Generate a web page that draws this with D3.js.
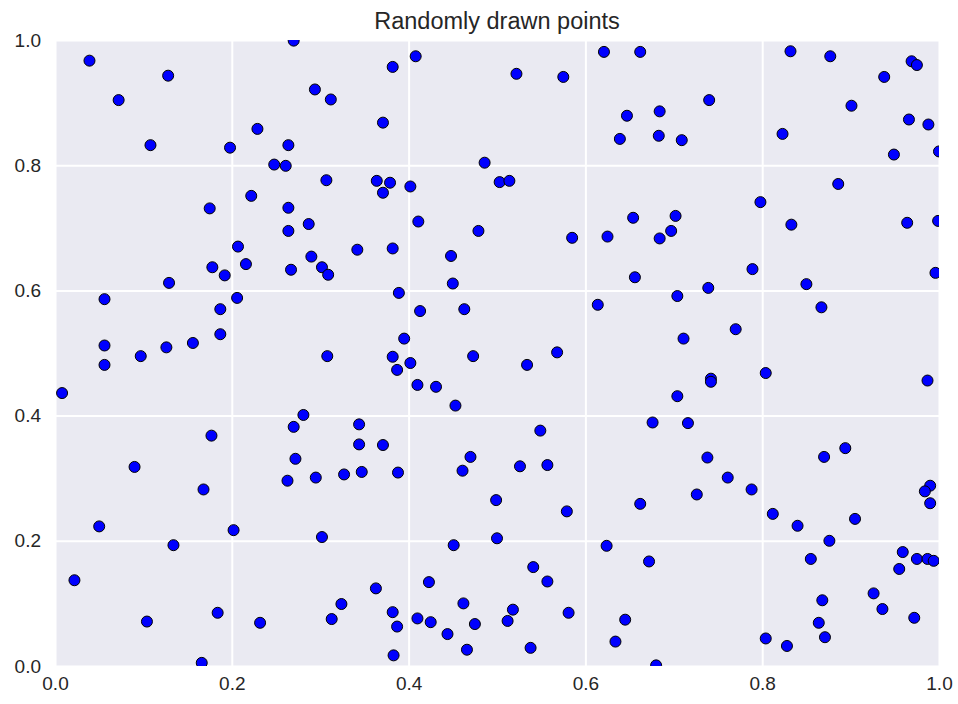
<!DOCTYPE html>
<html>
<head>
  <meta charset="utf-8" />
  <script src="https://cdn.jsdelivr.net/npm/d3@7/dist/d3.min.js"></script>
  <style>
    body { margin: 0; background: #fff; }
    text { font-family: "Liberation Sans", Arial, sans-serif; fill: #262626; }
  </style>
</head>
<body>
<script>
  "use strict";

  var title = "Randomly drawn points";
  var ticks = [0.0, 0.2, 0.4, 0.6, 0.8, 1.0];

  var xs = [
    0.039, 0.072, 0.108, 0.128, 0.198, 0.229, 0.222, 0.175, 0.207, 0.270,
    0.408, 0.382, 0.294, 0.312, 0.371, 0.264, 0.248, 0.261, 0.486, 0.307,
    0.364, 0.379, 0.371, 0.402, 0.264, 0.287, 0.264, 0.411, 0.479, 0.342,
    0.382, 0.621, 0.662, 0.522, 0.575, 0.740, 0.647, 0.684, 0.639, 0.683,
    0.709, 0.503, 0.514, 0.585, 0.654, 0.702, 0.625, 0.684, 0.697, 0.832,
    0.877, 0.969, 0.975, 0.938, 0.901, 0.966, 0.988, 0.823, 0.949, 1.000,
    0.886, 0.798, 0.833, 0.964, 0.999, 0.216, 0.178, 0.192, 0.129, 0.056,
    0.206, 0.187, 0.187, 0.056, 0.126, 0.156, 0.097, 0.056, 0.008, 0.177,
    0.290, 0.267, 0.302, 0.309, 0.448, 0.450, 0.389, 0.413, 0.463, 0.395,
    0.308, 0.382, 0.402, 0.387, 0.473, 0.410, 0.431, 0.453, 0.281, 0.270,
    0.344, 0.344, 0.371, 0.272, 0.470, 0.656, 0.739, 0.614, 0.704, 0.711,
    0.568, 0.534, 0.742, 0.742, 0.704, 0.549, 0.676, 0.716, 0.738, 0.789,
    0.850, 0.996, 0.867, 0.770, 0.804, 0.987, 0.894, 0.870, 0.090, 0.168,
    0.050, 0.202, 0.134, 0.022, 0.104, 0.184, 0.232, 0.166, 0.263, 0.295,
    0.327, 0.347, 0.388, 0.461, 0.302, 0.451, 0.423, 0.363, 0.324, 0.313,
    0.382, 0.387, 0.410, 0.425, 0.462, 0.475, 0.444, 0.466, 0.383, 0.526,
    0.557, 0.499, 0.579, 0.662, 0.726, 0.500, 0.624, 0.672, 0.541, 0.557,
    0.518, 0.512, 0.581, 0.645, 0.634, 0.538, 0.680, 0.761, 0.788, 0.812,
    0.840, 0.905, 0.876, 0.855, 0.959, 0.975, 0.987, 0.994, 0.955, 0.990,
    0.984, 0.990, 0.868, 0.926, 0.936, 0.972, 0.864, 0.871, 0.804, 0.828
  ];

  var ys = [
    0.967, 0.904, 0.832, 0.943, 0.828, 0.858, 0.751, 0.731, 0.670, 0.999,
    0.974, 0.957, 0.921, 0.905, 0.868, 0.832, 0.801, 0.799, 0.804, 0.776,
    0.775, 0.772, 0.756, 0.766, 0.732, 0.706, 0.695, 0.710, 0.695, 0.665,
    0.667, 0.981, 0.981, 0.946, 0.941, 0.904, 0.879, 0.886, 0.842, 0.847,
    0.840, 0.773, 0.775, 0.684, 0.716, 0.719, 0.686, 0.683, 0.695, 0.982,
    0.974, 0.966, 0.960, 0.941, 0.895, 0.873, 0.865, 0.850, 0.817, 0.822,
    0.770, 0.741, 0.705, 0.708, 0.711, 0.642, 0.637, 0.624, 0.612, 0.586,
    0.588, 0.570, 0.530, 0.512, 0.509, 0.516, 0.495, 0.481, 0.436, 0.368,
    0.654, 0.633, 0.637, 0.625, 0.655, 0.611, 0.596, 0.567, 0.570, 0.523,
    0.495, 0.494, 0.484, 0.473, 0.495, 0.449, 0.446, 0.416, 0.401, 0.382,
    0.386, 0.354, 0.353, 0.331, 0.334, 0.621, 0.604, 0.577, 0.591, 0.523,
    0.501, 0.481, 0.459, 0.454, 0.431, 0.376, 0.389, 0.388, 0.333, 0.634,
    0.610, 0.628, 0.573, 0.538, 0.468, 0.456, 0.348, 0.334, 0.318, 0.282,
    0.223, 0.217, 0.193, 0.137, 0.071, 0.085, 0.069, 0.005, 0.296, 0.301,
    0.306, 0.310, 0.309, 0.312, 0.206, 0.193, 0.134, 0.124, 0.099, 0.075,
    0.086, 0.063, 0.076, 0.070, 0.100, 0.067, 0.051, 0.026, 0.017, 0.319,
    0.321, 0.265, 0.247, 0.259, 0.274, 0.204, 0.192, 0.167, 0.158, 0.135,
    0.090, 0.072, 0.085, 0.074, 0.039, 0.029, 0.001, 0.301, 0.282, 0.243,
    0.224, 0.235, 0.200, 0.171, 0.182, 0.171, 0.171, 0.168, 0.155, 0.288,
    0.279, 0.260, 0.105, 0.116, 0.091, 0.077, 0.069, 0.046, 0.044, 0.032
  ];

  var points = xs.map(function(d, i) { return { x: d, y: ys[i] }; });

  var width = 958, height = 704;
  var margin = { top: 40, right: 19, bottom: 38, left: 55 };
  var innerW = width - margin.left - margin.right,
    innerH = height - margin.top - margin.bottom;

  var x = d3.scaleLinear().domain([0, 1]).range([0, innerW]);
  var y = d3.scaleLinear().domain([0, 1]).range([innerH, 0]);

  var svg = d3.select("body")
    .append("svg")
    .attr("width", width)
    .attr("height", height);

  svg.append("defs").append("clipPath")
    .attr("id", "plot-clip")
    .append("rect")
    .attr("width", innerW)
    .attr("height", innerH);

  var g = svg.append("g")
    .attr("transform", "translate(" + margin.left + "," + margin.top + ")");

  // seaborn darkgrid background
  g.append("rect")
    .attr("width", innerW)
    .attr("height", innerH)
    .attr("fill", "#eaeaf2");

  // grid lines
  var xAxis = d3.axisBottom(x).tickValues(ticks).tickSize(-innerH).tickPadding(11)
    .tickFormat(d3.format(".1f"));
  var yAxis = d3.axisLeft(y).tickValues(ticks).tickSize(-innerW).tickPadding(14)
    .tickFormat(d3.format(".1f"));

  var gx = g.append("g")
    .attr("transform", "translate(0," + innerH + ")")
    .call(xAxis);
  var gy = g.append("g").call(yAxis);

  [gx, gy].forEach(function(ax) {
    ax.select(".domain").remove();
    ax.selectAll(".tick line").attr("stroke", "#fff").attr("stroke-width", 2);
    ax.selectAll(".tick text")
      .attr("font-size", 19)
      .attr("fill", "#262626")
      .style("font-family", "'Liberation Sans', Arial, sans-serif");
  });

  // points
  g.append("g")
    .attr("clip-path", "url(#plot-clip)")
    .selectAll("circle")
    .data(points)
    .enter()
    .append("circle")
    .attr("cx", function(d) { return x(d.x); })
    .attr("cy", function(d) { return y(d.y); })
    .attr("r", 5.5)
    .attr("fill", "#0000ff")
    .attr("stroke", "#000")
    .attr("stroke-width", 1);

  svg.append("text")
    .attr("x", margin.left + innerW / 2)
    .attr("y", 29)
    .attr("text-anchor", "middle")
    .attr("font-size", 23.5)
    .text(title);
</script>
</body>
</html>
